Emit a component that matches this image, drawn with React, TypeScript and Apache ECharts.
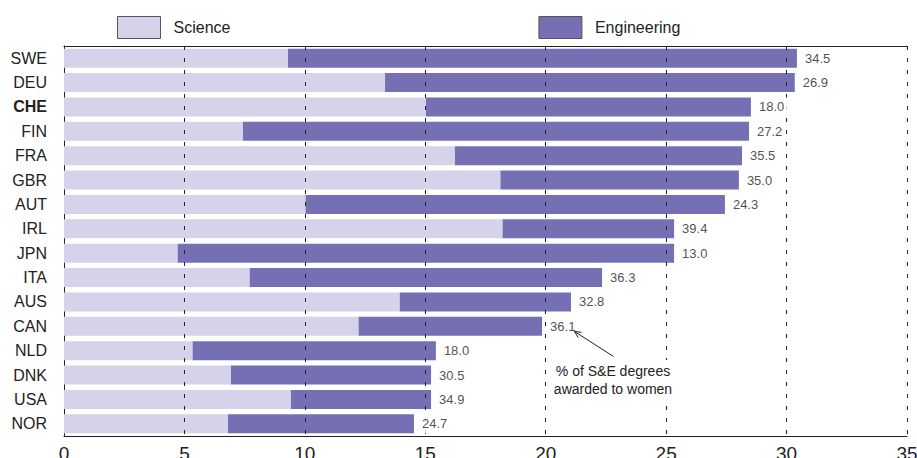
import React, { useEffect, useRef } from "react";
import * as echarts from "echarts";

const countries = ["SWE", "DEU", "CHE", "FIN", "FRA", "GBR", "AUT", "IRL", "JPN", "ITA", "AUS", "CAN", "NLD", "DNK", "USA", "NOR"];
const science = [9.3, 13.33, 15.03, 7.43, 16.23, 18.12, 10.03, 18.21, 4.72, 7.71, 13.94, 12.23, 5.34, 6.93, 9.42, 6.81];
const engineering = [21.13, 17.01, 13.49, 21.01, 11.92, 9.9, 17.41, 7.12, 20.61, 14.63, 7.11, 7.62, 10.1, 8.31, 5.82, 7.72];
const womenShare = ["34.5", "26.9", "18.0", "27.2", "35.5", "35.0", "24.3", "39.4", "13.0", "36.3", "32.8", "36.1", "18.0", "30.5", "34.9", "24.7"];
const xMin = 0;
const xMax = 35;
const xInterval = 5;
const gridValues = [5, 10, 15, 20, 25, 30];
const annotationText = "% of S&E degrees\nawarded to women";

const FONT = "'Liberation Sans', Arial, Helvetica, sans-serif";
const TEXT = "#222";

function arrowHead(x1: number, y1: number, x2: number, y2: number, len: number, ang: number) {
  const dx = x1 - x2;
  const dy = y1 - y2;
  const d = Math.sqrt(dx * dx + dy * dy);
  const ux = dx / d;
  const uy = dy / d;
  const c = Math.cos(ang);
  const s = Math.sin(ang);
  const a = [x2 + len * (ux * c - uy * s), y2 + len * (ux * s + uy * c)];
  const b = [x2 + len * (ux * c + uy * s), y2 + len * (-ux * s + uy * c)];
  return [a, [x2, y2], b];
}

export default function App() {
  const ref = useRef<HTMLDivElement>(null);
  useEffect(() => {
    document.body.style.margin = "0";
    if (!ref.current) return;
    const chart = echarts.init(ref.current, null, { renderer: "svg" });
    const totals = science.map((s, i) => s + engineering[i]);
    const ax = [613.5, 356.5, 574.5, 331.5];
    chart.setOption({
      animation: false,
      textStyle: { fontFamily: FONT },
      legend: {
        left: 117,
        top: 16,
        padding: 0,
        itemWidth: 43,
        itemHeight: 22,
        itemGap: 308,
        icon: "rect",
        itemStyle: { borderColor: "#555", borderWidth: 1 },
        textStyle: { fontSize: 16, color: TEXT, fontFamily: FONT, padding: [0, 0, 0, 8] },
        data: ["Science", "Engineering"],
      },
      grid: { left: 64, right: 10, top: 46, bottom: 22, outerBoundsMode: "none", containLabel: false },
      xAxis: [
        {
          type: "value",
          min: xMin,
          max: xMax,
          interval: xInterval,
          position: "bottom",
          axisLine: { show: true, lineStyle: { color: TEXT, width: 1 } },
          axisTick: { show: false },
          axisLabel: { fontSize: 19, color: TEXT, margin: 8, fontFamily: FONT },
          splitLine: { show: false },
        },
        {
          type: "value",
          min: xMin,
          max: xMax,
          interval: xMax,
          position: "top",
          axisLine: { show: true, lineStyle: { color: TEXT, width: 1 } },
          axisTick: { show: false },
          axisLabel: { show: false },
          splitLine: { show: true, lineStyle: { color: TEXT, type: [4, 8], width: 1 } },
        },
      ],
      yAxis: [
        {
          type: "category",
          data: countries,
          inverse: true,
          axisLine: { show: true, lineStyle: { color: "#bbb" } },
          axisTick: { show: false },
          axisLabel: {
            fontSize: 16,
            color: TEXT,
            margin: 17,
            fontFamily: FONT,
            formatter: (v: string) => (v === "CHE" ? "{b|CHE}" : v),
            rich: { b: { fontWeight: "bold", fontSize: 16, color: TEXT, fontFamily: FONT } },
          },
        },
        {
          type: "category",
          data: countries,
          inverse: true,
          position: "right",
          axisLine: { show: true, lineStyle: { color: TEXT } },
          axisTick: { show: false },
          axisLabel: { show: false },
        },
      ],
      series: [
        {
          name: "Science",
          type: "bar",
          stack: "total",
          data: science,
          barCategoryGap: "22%",
          itemStyle: { color: "#d5d2ea" },
          z: 2,
        },
        {
          name: "Engineering",
          type: "bar",
          stack: "total",
          data: engineering,
          itemStyle: { color: "#7570b3" },
          z: 2,
          markLine: {
            silent: true,
            symbol: "none",
            z: 5,
            label: { show: false },
            lineStyle: { color: TEXT, type: [4, 8], width: 1 },
            data: gridValues.map((v) => ({ xAxis: v })),
          },
        },
        {
          type: "scatter",
          data: countries.map((c, i) => [totals[i], c]),
          symbolSize: 0,
          silent: true,
          z: 10,
          label: {
            show: true,
            position: "right",
            distance: 5,
            formatter: (p: any) => womenShare[p.dataIndex],
            fontSize: 13,
            color: TEXT,
            fontFamily: FONT,
            backgroundColor: "#fff",
            padding: [3, 3],
          },
        },
      ],
      graphic: [
        {
          type: "text",
          x: 613,
          y: 380,
          z: 100,
          style: {
            text: annotationText,
            fontSize: 14,
            lineHeight: 18,
            fontFamily: FONT,
            fill: TEXT,
            align: "center",
            verticalAlign: "middle",
            backgroundColor: "#fff",
            padding: [2, 3],
          },
        },
        {
          type: "line",
          z: 100,
          shape: { x1: ax[0], y1: ax[1], x2: ax[2], y2: ax[3] },
          style: { stroke: TEXT, lineWidth: 1 },
        },
        {
          type: "polyline",
          z: 100,
          shape: { points: arrowHead(ax[0], ax[1], ax[2], ax[3], 7, 0.45) },
          style: { stroke: TEXT, lineWidth: 1, fill: "none" },
        },
      ],
    });
    return () => chart.dispose();
  }, []);
  return <div ref={ref} style={{ width: 917, height: 458 }} />;
}
